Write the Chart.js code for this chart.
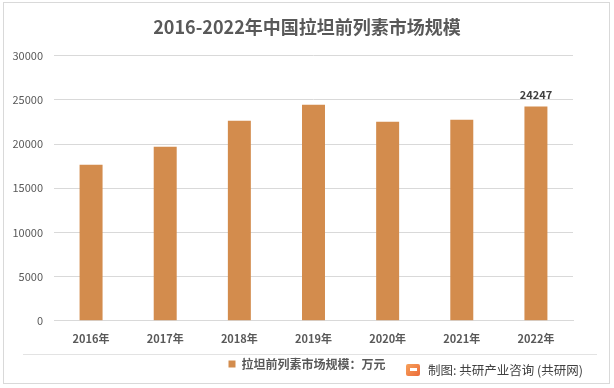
<!DOCTYPE html>
<html>
<head>
<meta charset="utf-8">
<script src="https://cdn.jsdelivr.net/npm/chart.js@4.4.1/dist/chart.umd.min.js"></script>
<style>
    body { margin: 0; background: #fff; }
    .wrap { position: relative; width: 614px; height: 388px; font-family: "Noto Sans CJK SC", "Noto Sans", sans-serif; }
    .frame { position: absolute; left: 3px; top: 2px; width: 605px; height: 380px; border: 1px solid #d9d9d9; }
    .sep { position: absolute; left: 23px; top: 354px; width: 574px; height: 1px; background: #e3e3e3; }
    .source { position: absolute; left: 406px; top: 361px; font-size: 12.5px; color: #404040; line-height: 18px; white-space: nowrap; }
    .logo { display: inline-block; width: 14px; height: 12px; margin-right: 8px; vertical-align: -1px;
            background: linear-gradient(135deg, #f6a15a, #ec6b3a); border-radius: 2px; position: relative; }
    .logo::after { content: ""; position: absolute; left: 4px; top: 4px; width: 7px; height: 3px; background: #fff; }
    canvas { position: absolute; left: 0; top: 0; }
</style>
</head>
<body>
<div class="wrap">
    <div class="frame"></div>
    <canvas id="marketChart" width="614" height="388"></canvas>
    <div class="sep"></div>
    <div class="source"><span class="logo"></span>制图: 共研产业咨询 (共研网)</div>
</div>
<script>
const years = ["2016年", "2017年", "2018年", "2019年", "2020年", "2021年", "2022年"];
const marketSize = [17660, 19700, 22640, 24450, 22530, 22750, 24247];
const labelledYears = ["2022年"];

// only the last bar carries a value label in the original
const valueLabels = {
    id: "valueLabels",
    afterDatasetsDraw(chart) {
        const ctx = chart.ctx;
        const meta = chart.getDatasetMeta(0);
        ctx.save();
        ctx.font = "bold 11px 'Noto Sans CJK SC', sans-serif";
        ctx.fillStyle = "#404040";
        ctx.textAlign = "center";
        ctx.textBaseline = "bottom";
        meta.data.forEach((bar, i) => {
            if (labelledYears.includes(years[i])) {
                ctx.fillText(marketSize[i], bar.x, bar.y - 6);
            }
        });
        ctx.restore();
    }
};

const ctx = document.getElementById("marketChart").getContext("2d");
const marketChart = new Chart(ctx, {
    type: "bar",
    data: {
        labels: years,
        datasets: [{
            label: "拉坦前列素市场规模：万元",
            data: marketSize,
            backgroundColor: "#D38C4D",
            categoryPercentage: 1,
            barPercentage: 0.31
        }]
    },
    options: {
        responsive: false,
        animation: false,
        layout: { padding: { left: 0, right: 0, top: 0, bottom: 8 } },
        plugins: {
            title: {
                display: true,
                text: "2016-2022年中国拉坦前列素市场规模",
                color: "#595959",
                font: { size: 18, weight: "bold", family: "'Noto Sans CJK SC', sans-serif" },
                padding: { top: 16, bottom: 18 }
            },
            legend: {
                position: "bottom",
                labels: {
                    boxWidth: 7,
                    boxHeight: 7,
                    color: "#595959",
                    font: { size: 12, weight: "bold", family: "'Noto Sans CJK SC', sans-serif" },
                    padding: 10
                }
            },
            tooltip: { enabled: false }
        },
        scales: {
            x: {
                grid: { display: false },
                border: { color: "#d9d9d9" },
                ticks: {
                    color: "#595959",
                    padding: 3,
                    font: { size: 11, weight: "bold", family: "'Noto Sans CJK SC', sans-serif" }
                }
            },
            y: {
                min: 0,
                max: 30000,
                grid: { color: "#d9d9d9", drawTicks: false },
                border: { display: false },
                afterFit: scale => { scale.width = 54; },
                ticks: {
                    stepSize: 5000,
                    padding: 11,
                    color: "#595959",
                    font: { size: 11, family: "'Noto Sans CJK SC', sans-serif" },
                    callback: v => String(v)
                }
            },
            // empty right-hand axis that only reserves the right margin
            yRight: {
                position: "right",
                grid: { display: false },
                border: { display: false },
                ticks: { display: false },
                afterFit: scale => { scale.width = 41; }
            }
        }
    },
    plugins: [valueLabels]
});
</script>
</body>
</html>
